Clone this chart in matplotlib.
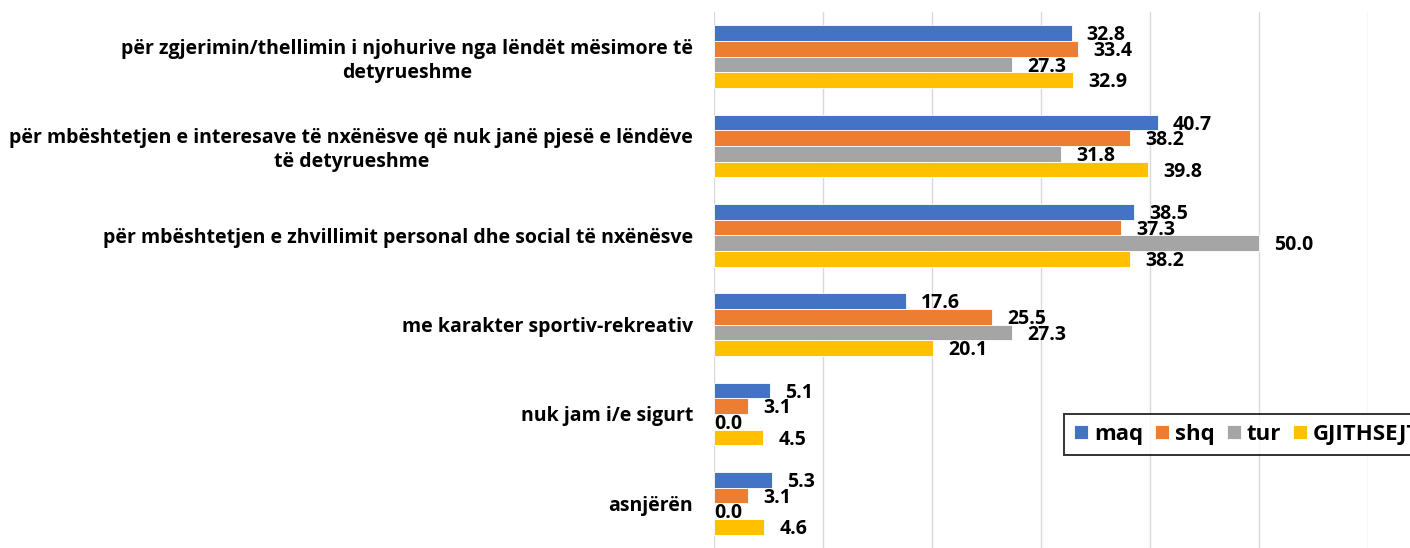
import matplotlib
matplotlib.use("Agg")
import matplotlib.pyplot as plt
import numpy as np

categories = [
    "për zgjerimin/thellimin i njohurive nga lëndët mësimore të\ndetyrueshme",
    "për mbështetjen e interesave të nxënësve që nuk janë pjesë e lëndëve\ntë detyrueshme",
    "për mbështetjen e zhvillimit personal dhe social të nxënësve",
    "me karakter sportiv-rekreativ",
    "nuk jam i/e sigurt",
    "asnjërën",
]
series_names = ["maq", "shq", "tur", "GJITHSEJT"]
maq = [32.8, 40.7, 38.5, 17.6, 5.1, 5.3]
shq = [33.4, 38.2, 37.3, 25.5, 3.1, 3.1]
tur = [27.3, 31.8, 50.0, 27.3, 0.0, 0.0]
gjithsejt = [32.9, 39.8, 38.2, 20.1, 4.5, 4.6]
colors = ["#4472C4", "#ED7D31", "#A5A5A5", "#FFC000"]

plt.rcParams['font.family'] = ['Open Sans', 'DejaVu Sans']

fig = plt.figure(figsize=(14.1, 5.48), dpi=100)
ax = fig.add_axes([714/1410, 0.0, (1368-714)/1410, 1-12/548])

data = [maq, shq, tur, gjithsejt]
n = len(categories)
y = np.arange(n)
h = 0.7 / 4
for i, (vals, c, name) in enumerate(zip(data, colors, series_names)):
    pos = y - 0.35 + h/2 + i*h
    ax.barh(pos, vals, height=h, color=c, edgecolor='white', linewidth=0.6, label=name, zorder=3)
    for p, v in zip(pos, vals):
        off = 11 if v > 0 else 0
        ax.annotate(f"{v:.1f}", xy=(v, p), xytext=(off, -1.5), textcoords='offset points',
                    ha='left', va='center', fontsize=14, fontweight='bold', color='black', zorder=4)

ax.set_xlim(0, 60)
ax.set_ylim(n-0.5, -0.5)
ax.set_xticks(np.arange(0, 61, 10))
ax.set_xticklabels([])
ax.tick_params(axis='x', length=0)
ax.tick_params(axis='y', length=0, pad=15)
ax.set_yticks(y)
ax.set_yticklabels(categories, fontsize=14, fontweight='bold', multialignment='center', linespacing=1.25)
ax.grid(axis='x', color='#D9D9D9', linewidth=1, zorder=0)
for s in ax.spines.values():
    s.set_visible(False)

leg = ax.legend(loc='upper left', bbox_to_anchor=((1064-714)/654, (548-414)/536), ncol=4, frameon=True,
                fancybox=False, edgecolor='black', handlelength=0.62, handleheight=0.62,
                handletextpad=0.27, columnspacing=0.55, borderpad=0.45, borderaxespad=0,
                prop={'family': ['Open Sans', 'DejaVu Sans'], 'weight': 'bold', 'size': 16})
leg.get_frame().set_linewidth(1.4)

fig.savefig("out.png", dpi=100)
